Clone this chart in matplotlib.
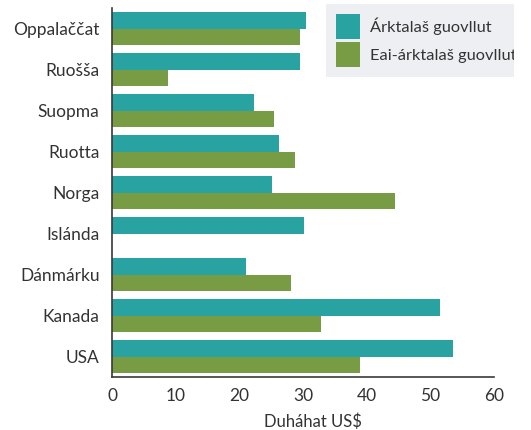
import numpy as np
import matplotlib
matplotlib.use("Agg")
import matplotlib.pyplot as plt
from matplotlib.patches import Rectangle

plt.rcParams['font.family'] = ['Lato', 'DejaVu Sans']

countries = ["Oppalaččat", "Ruošša", "Suopma", "Ruotta", "Norga",
             "Islánda", "Dánmárku", "Kanada", "USA"]
arctic = [30.5, 29.6, 22.3, 26.3, 25.1, 30.2, 21.1, 51.5, 53.6]
non_arctic = [29.6, 8.8, 25.4, 28.8, 44.4, np.nan, 28.2, 32.8, 39.0]
series_names = ["Árktalaš guovllut", "Eai-árktalaš guovllut"]
xticks = [0, 10, 20, 30, 40, 50, 60]

teal = "#28a3a1"
green = "#779c43"

fig = plt.figure(figsize=(5.31, 4.30), dpi=100)
ax = fig.add_axes([0.211, 0.123, 0.719, 0.858])

y = np.arange(len(countries))
h = 0.395
ax.barh(y - h / 2, arctic, height=h, color=teal, label=series_names[0])
ax.barh(y + h / 2, non_arctic, height=h, color=green, label=series_names[1])

ax.set_ylim(len(countries) - 0.5, -0.5)
ax.set_xlim(0, 60)
ax.set_yticks(y)
ax.set_yticklabels(countries)
ax.set_xticks(xticks)

for s in ["top", "right"]:
    ax.spines[s].set_visible(False)
for s in ["left", "bottom"]:
    ax.spines[s].set_color("#3a3a3a")
    ax.spines[s].set_linewidth(1.2)

ax.tick_params(axis="y", length=0, pad=9, labelsize=12.5, labelcolor="#333333")
ax.tick_params(axis="x", length=0, pad=8, labelsize=12.5, labelcolor="#333333")
ax.set_xlabel("Duháhat US$", fontsize=12, color="#333333", labelpad=7, x=0.527)

leg = ax.legend(loc="upper left", bbox_to_anchor=(0.56, 1.01),
                frameon=True, fancybox=False, fontsize=11.8,
                handlelength=1.5, handleheight=1.95, handletextpad=0.6,
                borderpad=0.6, labelspacing=0.2, borderaxespad=0)
leg.get_frame().set_facecolor("#eeeff3")
leg.get_frame().set_edgecolor("none")
leg.get_frame().set_alpha(1)
for t in leg.get_texts():
    t.set_color("#333333")

# the legend box is cut off at the right edge in the original
fig.patches.append(Rectangle((514 / 531, 0.7), 1, 0.3, transform=fig.transFigure,
                             facecolor="white", edgecolor="none", zorder=10))

fig.savefig("out.png", dpi=100)
